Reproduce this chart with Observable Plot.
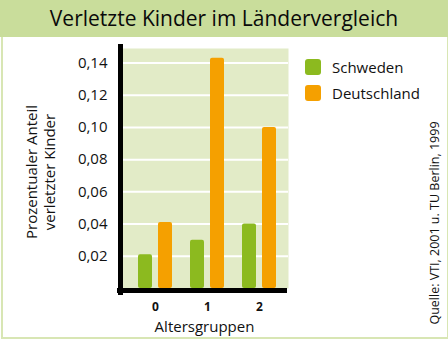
<!DOCTYPE html>
<html>
<head>
<meta charset="utf-8">
<script src="https://cdn.jsdelivr.net/npm/d3@7"></script>
<script src="https://cdn.jsdelivr.net/npm/@observablehq/plot@0.6"></script>
<style>
  html, body { margin: 0; padding: 0; background: #fff; }
  #wrap { position: relative; width: 448px; height: 339px; overflow: hidden; font-family: "Open Sans", sans-serif; color: #111; }
  #border { position: absolute; left: 1px; top: 0; width: 444px; height: 335px; border: 2px solid #d8e6b4; }
  #title { position: absolute; left: 0; top: 0; width: 448px; height: 37px; background: #c9dd9b; text-align: center; font-size: 21px; line-height: 37px; color: #0a0a0a; }
  #chart { position: absolute; left: 0; top: 0; }
  #ylab { position: absolute; left: 40px; top: 172px; transform: translate(-50%, -50%) rotate(-90deg); white-space: nowrap; text-align: center; font-size: 15px; line-height: 18px; }
  #source { position: absolute; left: 434px; top: 223px; transform: translate(-50%, -50%) rotate(-90deg); white-space: nowrap; font-size: 12.5px; }
  #legend { position: absolute; left: 305px; top: 54px; font-size: 15px; }
  .li { display: flex; align-items: center; height: 26px; }
  .sw { width: 16px; height: 16px; border-radius: 3px; margin-right: 11px; }
</style>
</head>
<body>
<div id="wrap">
  <div id="border"></div>
  <div id="title">Verletzte Kinder im Ländervergleich</div>
  <div id="chart"></div>
  <div id="ylab">Prozentualer Anteil<br>verletzter Kinder</div>
  <div id="legend"></div>
  <div id="source">Quelle: VTI, 2001 u. TU Berlin, 1999</div>
</div>
<script>
const groups = ["0", "1", "2"];
const series = ["Schweden", "Deutschland"];
const schweden = [0.021, 0.030, 0.040];
const deutschland = [0.041, 0.143, 0.100];
const yTicks = [0.02, 0.04, 0.06, 0.08, 0.10, 0.12, 0.14];
const colors = ["#8cba1f", "#f5a000"];

const sData = groups.map((g, i) => ({group: g, value: schweden[i]}));
const dData = groups.map((g, i) => ({group: g, value: deutschland[i]}));

const marks = [
  Plot.frame({fill: "#e2ebc7", stroke: "none"}),
  Plot.ruleY(yTicks, {stroke: "white", strokeWidth: 2}),
  Plot.barY(sData, {x: "group", y: "value", fill: colors[0], insetLeft: 9, insetRight: 29, rx: 2}),
  Plot.barY(dData, {x: "group", y: "value", fill: colors[1], insetLeft: 29, insetRight: 9, rx: 2}),
  Plot.ruleY([0], {stroke: "black", strokeWidth: 5, dy: 2, insetLeft: -3, insetRight: 1})
];
try {
  marks.push(Plot.frame({anchor: "left", stroke: "black", strokeWidth: 5, insetTop: -2, insetBottom: -4}));
} catch (e) {}

const chart = Plot.plot({
  width: 448,
  height: 339,
  marginLeft: 120,
  marginRight: 160,
  marginTop: 48,
  marginBottom: 51,
  style: {fontFamily: "Open Sans, sans-serif", fontSize: "15px", background: "transparent", color: "#111", overflow: "visible"},
  x: {domain: groups, range: [129, 285], padding: 0, tickSize: 0, tickPadding: 14, label: "Altersgruppen", labelAnchor: "center", labelOffset: 43},
  y: {domain: [0, 0.149], ticks: yTicks, tickFormat: d => d.toFixed(2).replace(".", ","), tickSize: 0, tickPadding: 13, label: null},
  marks
});
chart.querySelectorAll("text").forEach(t => {
  if (groups.includes(t.textContent.trim())) {
    t.style.fontSize = "12px";
    t.style.fontWeight = "bold";
  }
});
document.getElementById("chart").appendChild(chart);

const legend = document.getElementById("legend");
series.forEach((s, i) => {
  const row = document.createElement("div");
  row.className = "li";
  const sw = document.createElement("div");
  sw.className = "sw";
  sw.style.background = colors[i];
  row.appendChild(sw);
  row.appendChild(document.createTextNode(s));
  legend.appendChild(row);
});
</script>
</body>
</html>
